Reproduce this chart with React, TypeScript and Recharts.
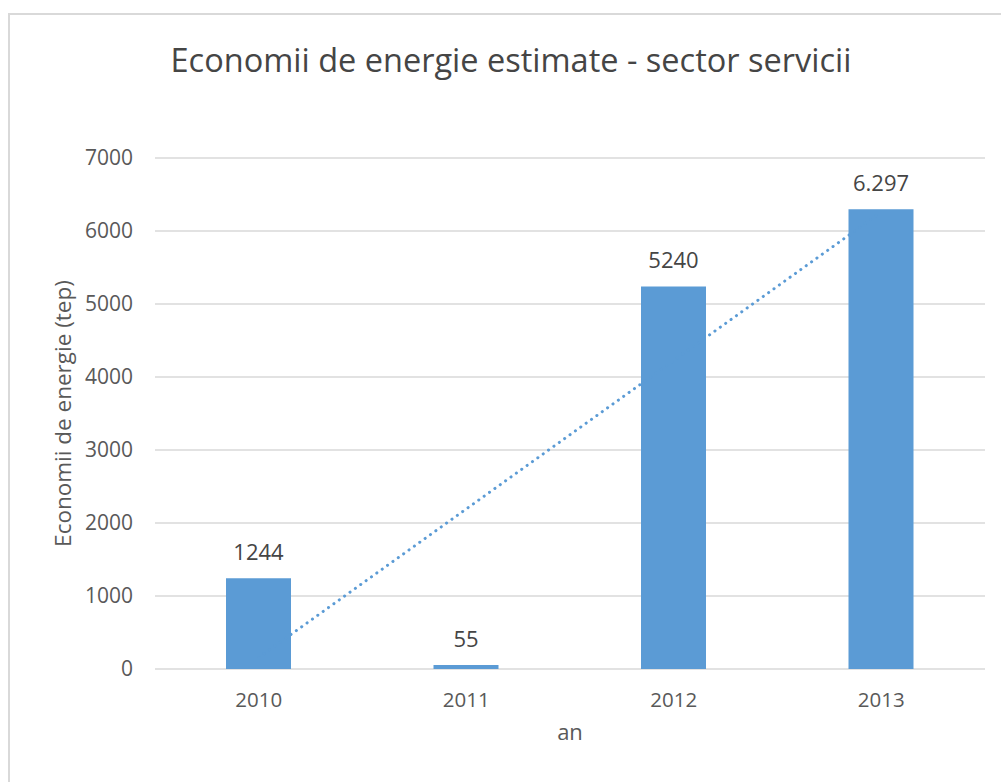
import { Bar, ComposedChart, CartesianGrid, XAxis, YAxis, Line, LabelList } from "recharts";

const years = ["2010", "2011", "2012", "2013"];
const savings = [1244, 55, 5240, 6297];
const savingsLabels = ["1244", "55", "5240", "6.297"];
// linear trendline
const trend = [157, 2192, 4226, 6260];
const yTicks = [0, 1000, 2000, 3000, 4000, 5000, 6000, 7000];

const data = years.map((y, i) => ({ year: y, value: savings[i], label: savingsLabels[i], trend: trend[i] }));

const FONT = "'Open Sans', sans-serif";
const TEXT = "#595959";
const DARK = "#454545";
const BLUE = "#5B9BD5";
const GRID = "#d9d9d9";

export default function App() {
  return (
    <div style={{ position: "absolute", left: 0, top: 0, width: 1001, height: 782, background: "#fff", overflow: "hidden", fontFamily: FONT }}>
      <div
        style={{
          position: "absolute",
          left: 8,
          top: 13,
          width: 1001,
          height: 782,
          borderLeft: `2px solid ${GRID}`,
          borderTop: `2px solid ${GRID}`,
        }}
      />
      <div
        style={{
          position: "absolute",
          left: 0,
          top: 37,
          width: 1022,
          textAlign: "center",
          fontSize: 32.5,
          color: DARK,
          lineHeight: "46px",
        }}
      >
        Economii de energie estimate - sector servicii
      </div>
      <div style={{ position: "absolute", left: 0, top: 0 }}>
        <ComposedChart width={1001} height={782} data={data} margin={{ top: 158, right: 16, bottom: 33, left: 45 }}>
          <CartesianGrid vertical={false} stroke={GRID} strokeWidth={1.5} />
          <XAxis
            dataKey="year"
            height={80}
            tickLine={false}
            axisLine={false}
            tickSize={0}
            tickMargin={23}
            tick={{ fill: TEXT, fontSize: 20.5, fontFamily: FONT }}
            label={{ value: "an", position: "insideBottom", offset: 9, fill: TEXT, fontSize: 22, fontFamily: FONT }}
          />
          <YAxis
            width={110}
            domain={[0, 7000]}
            ticks={yTicks}
            interval={0}
            tickLine={false}
            axisLine={false}
            tickSize={0}
            tickMargin={22}
            tick={{ fill: TEXT, fontSize: 21, fontFamily: FONT }}
            label={{
              value: "Economii de energie (tep)",
              angle: -90,
              position: "insideLeft",
              offset: 18,
              fill: TEXT,
              fontSize: 22.5,
              fontFamily: FONT,
              style: { textAnchor: "middle" },
            }}
          />
          <Line
            dataKey="trend"
            type="linear"
            stroke={BLUE}
            strokeWidth={3}
            strokeDasharray="0.1 6.5"
            strokeLinecap="round"
            dot={false}
            activeDot={false}
            isAnimationActive={false}
          />
          <Bar dataKey="value" fill={BLUE} barSize={65} isAnimationActive={false}>
            <LabelList dataKey="label" position="top" offset={18} fill={DARK} fontSize={22} fontFamily={FONT} />
          </Bar>
        </ComposedChart>
      </div>
    </div>
  );
}
